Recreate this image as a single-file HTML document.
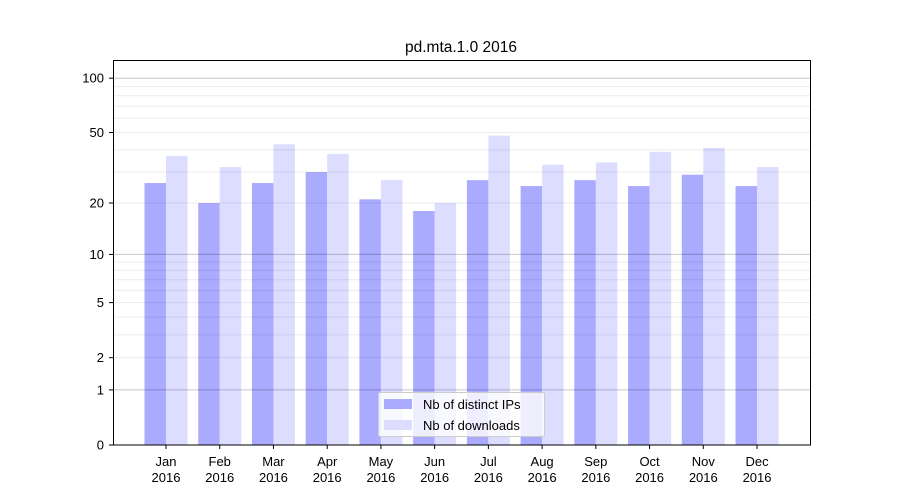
<!DOCTYPE html>
<html><head><meta charset="utf-8"><style>body{margin:0;background:#fff}svg{display:block;font-family:"Liberation Sans","DejaVu Sans",sans-serif}</style></head>
<body>
<svg width="900" height="500" viewBox="0 0 900 500" xmlns="http://www.w3.org/2000/svg">
<rect width="900" height="500" fill="#fff"/>
<text x="461" y="52" font-size="15.5" text-anchor="middle">pd.mta.1.0 2016</text>
<g id="bars"></g>
<g id="grid"></g>
<rect x="113.5" y="60.5" width="697" height="384.5" fill="none" stroke="#000" stroke-width="1"/>
<g id="ticks" font-size="13"></g>
<g font-size="13">
<rect x="378.5" y="392.5" width="166" height="44" fill="#fff" fill-opacity="0.8" stroke="#ccc" rx="2"/>
<rect x="384" y="399" width="28" height="10" fill="#aaaaff"/>
<text x="423" y="409">Nb of distinct IPs</text>
<rect x="384" y="420" width="28" height="10" fill="#ddddff"/>
<text x="423" y="430">Nb of downloads</text>
</g>
</svg>
<script>
const ns="http://www.w3.org/2000/svg";
function el(p,t,a,txt){const e=document.createElementNS(ns,t);for(const k in a)e.setAttribute(k,a[k]);if(txt!=null)e.textContent=txt;document.getElementById(p).appendChild(e);return e;}
const Y=v=>445-183*Math.log10(1+v);
const minors=[2,3,4,5,6,7,8,9,20,30,40,50,60,70,80,90];
minors.forEach(v=>el("grid","line",{x1:113,x2:810,y1:Y(v),y2:Y(v),stroke:"#000","stroke-opacity":0.08,"stroke-width":1}));
[1,10,100].forEach(v=>el("grid","line",{x1:113,x2:810,y1:Y(v),y2:Y(v),stroke:"#000","stroke-opacity":0.22,"stroke-width":1}));
const ip=[26,20,26,30,21,18,27,25,27,25,29,25];
const dl=[37,32,43,38,27,20,48,33,34,39,41,32];
const m=["Jan","Feb","Mar","Apr","May","Jun","Jul","Aug","Sep","Oct","Nov","Dec"];
for(let i=0;i<12;i++){
 const c=166+i*53.73;
 el("bars","rect",{x:c-21.5,y:Y(ip[i]),width:21.5,height:445-Y(ip[i]),fill:"#aaaaff"});
 el("bars","rect",{x:c,y:Y(dl[i]),width:21.5,height:445-Y(dl[i]),fill:"#ddddff"});
 el("ticks","line",{x1:c,x2:c,y1:445,y2:449,stroke:"#000"});
 el("ticks","text",{x:c,y:466,"text-anchor":"middle"},m[i]);
 el("ticks","text",{x:c,y:482,"text-anchor":"middle"},"2016");
}
[0,1,2,5,10,20,50,100].forEach(v=>{
 el("ticks","line",{x1:109,x2:113,y1:Y(v),y2:Y(v),stroke:"#000"});
 el("ticks","text",{x:104,y:Y(v)+4.5,"text-anchor":"end"},String(v));
});
</script>
</body></html>
